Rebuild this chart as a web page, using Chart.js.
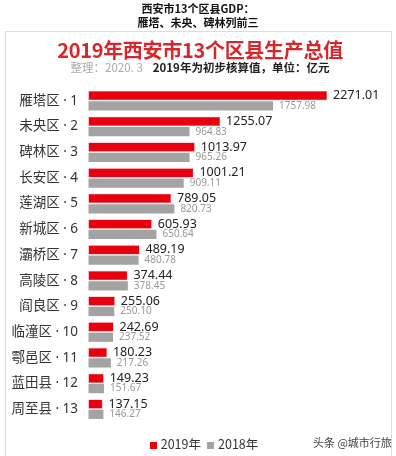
<!DOCTYPE html>
<html>
<head>
<meta charset="utf-8">
<script src="https://cdn.jsdelivr.net/npm/chart.js@4"></script>
<style>
  body{ margin:0; width:396px; height:456px; background:#fff; overflow:hidden;
        font-family:"Noto Sans CJK SC","Noto Sans",sans-serif; }
  #card{ position:absolute; left:5px; top:31px; width:387px; height:440px;
         border:1px solid #dcdcdc; box-sizing:border-box; }
  #myChart{ position:absolute; left:0; top:0; }
  .txt{ position:absolute; left:0; width:396px; text-align:center; white-space:nowrap; }
  #head1{ top:0px; font-size:11px; font-weight:bold; color:#111; }
  #head2{ top:14px; font-size:11px; font-weight:bold; color:#111; }
  #title{ top:35px; left:2px; font-size:20px; font-weight:bold; color:#d8262b; letter-spacing:-0.3px; }
  #sub{ top:59px; left:2px; font-size:11.5px; color:#222; font-weight:bold; }
  #sub span{ color:#aaa; font-weight:normal; margin-right:10px; }
  #legend{ top:434px; left:3px; font-size:12.5px; color:#333; }
  #legend i{ display:inline-block; width:7px; height:7px; margin:0 4px 0 6px; vertical-align:0px; }
  #mark{ position:absolute; left:313px; top:434px; font-size:11px; color:#444; }
</style>
</head>
<body>
<div id="card"></div>
<canvas id="myChart" width="396" height="456"></canvas>
<div class="txt" id="head1">西安市13个区县GDP：</div>
<div class="txt" id="head2">雁塔、未央、碑林列前三</div>
<div class="txt" id="title">2019年西安市13个区县生产总值</div>
<div class="txt" id="sub"><span>整理：2020. 3</span>2019年为初步核算值，单位：亿元</div>
<div class="txt" id="legend"></div>
<div id="mark">头条 @城市行旅</div>

<script>

//------------------------------------------------------------------

var districts = ['雁塔区 · 1','未央区 · 2','碑林区 · 3','长安区 · 4','莲湖区 · 5','新城区 · 6','灞桥区 · 7',
                 '高陵区 · 8','阎良区 · 9','临潼区 · 10','鄠邑区 · 11','蓝田县 · 12','周至县 · 13'];

var gdp_2019 = [2271.01,1255.07,1013.97,1001.21,789.05,605.93,489.19,374.44,255.06,242.69,180.23,149.23,137.15];
var gdp_2018 = [1757.98,964.83,965.26,909.11,820.73,650.64,480.78,378.45,250.10,237.52,217.26,151.67,146.27];

var series_names = ['2019年','2018年'];

//------------------------------------------------------------------

// value text after every bar
const bar_labels = {
    id: 'bar_labels',
    afterDatasetsDraw(chart){
        const c = chart.ctx;
        c.save();
        c.textBaseline = 'middle';
        c.textAlign = 'left';
        chart.data.datasets.forEach(function(ds, d){
            var meta = chart.getDatasetMeta(d);
            meta.data.forEach(function(bar, i){
                if(d == 0){
                    c.font = '12.5px "Noto Sans", sans-serif';
                    c.fillStyle = '#222';
                } else {
                    c.font = '10px "Noto Sans", sans-serif';
                    c.fillStyle = '#999';
                }
                c.fillText(ds.data[i].toFixed(2), bar.x + 6, bar.y);
            });
        });
        c.restore();
    }
};

// grid lines run a little above the first bar
const grid_top = {
    id: 'grid_top',
    beforeDatasetsDraw(chart){
        const c = chart.ctx, x = chart.scales.x, a = chart.chartArea;
        c.save();
        c.strokeStyle = '#e6e6e6';
        c.lineWidth = 1;
        x.ticks.forEach(function(t){
            if(t.value > 0 && t.value % 500 == 0){
                var px = Math.round(x.getPixelForValue(t.value)) + 0.5;
                c.beginPath();
                c.moveTo(px, a.top - 7);
                c.lineTo(px, a.top);
                c.stroke();
            }
        });
        c.restore();
    }
};

const ctx = document.getElementById('myChart');

const gdp_chart = new Chart(ctx, {
    type: 'bar',
    data: {
        labels: districts,
        datasets: [{
            label: series_names[0],
            data: gdp_2019,
            backgroundColor: '#e8000e',
            borderColor: '#f26060',
            borderWidth: 0.5
        },{
            label: series_names[1],
            data: gdp_2018,
            backgroundColor: '#a3a3a3'
        }]
    },
    options: {
        indexAxis: 'y',
        responsive: false,
        animation: false,
        barPercentage: 0.9,
        categoryPercentage: 0.8,
        layout: { padding: { left: 0, right: 8, top: 88, bottom: 34 } },
        plugins: {
            legend: { display: false },
            tooltip: { enabled: false }
        },
        scales: {
            x: {
                min: 0,
                max: 2850,
                ticks: { display: false, stepSize: 500 },
                border: { display: false },
                grid: {
                    drawTicks: false,
                    color: function(c){
                        var v = c.tick ? c.tick.value : 0;
                        return (v > 0 && v % 500 == 0) ? '#e6e6e6' : 'rgba(0,0,0,0)';
                    }
                }
            },
            y: {
                border: { display: false },
                grid: { display: false, drawTicks: false },
                ticks: {
                    color: '#333',
                    padding: 10,
                    font: { size: 13.5, family: '"Noto Sans", "Noto Sans CJK SC", sans-serif' }
                },
                afterFit: function(s){ s.width = 88; }
            }
        }
    },
    plugins: [bar_labels, grid_top]
});

// legend from the datasets
var lg = '';
gdp_chart.data.datasets.forEach(function(ds){
    lg += '<i style="background:' + ds.backgroundColor + '"></i>' + ds.label;
});
document.getElementById('legend').innerHTML = lg;

</script>
</body>
</html>
